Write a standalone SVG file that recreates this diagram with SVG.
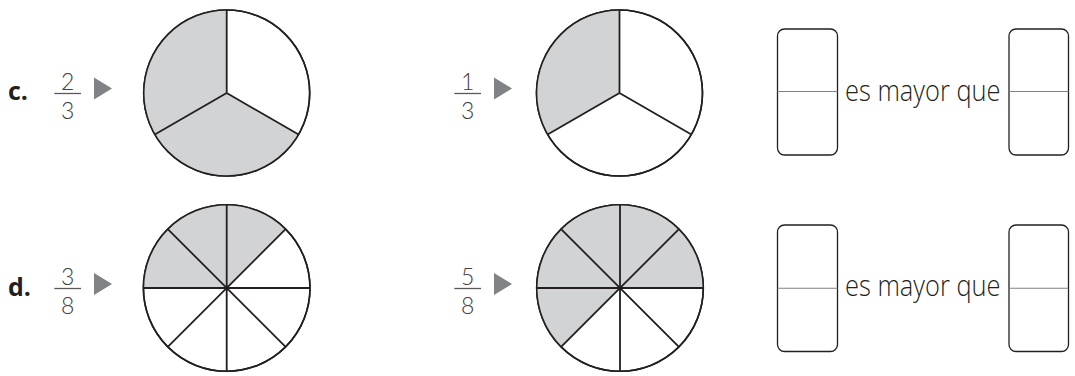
<svg xmlns="http://www.w3.org/2000/svg" width="1075" height="376" viewBox="0 0 1075 376">
<style>
.bg{fill:#ffffff}
.disc{fill:#ffffff;stroke:#231f20;stroke-width:1.6}
.shade{fill:#d1d3d4;stroke:none}
.spoke{stroke:#231f20;stroke-width:1.8;fill:none}
.label{font-family:"Open Sans","Noto Sans","Liberation Sans",sans-serif;font-weight:700;font-size:25px;fill:#231f20}
.digit{font-family:Lato,"Open Sans","Liberation Sans",sans-serif;font-weight:300;font-size:23px;fill:#414042;text-anchor:middle}
.bar{stroke:#58595b;stroke-width:1.3}
.tri{fill:#808285}
.box{fill:#ffffff;stroke:#231f20;stroke-width:1.3}
.mid{stroke:#808285;stroke-width:1.1}
.txt{font-family:"Open Sans","Noto Sans","Liberation Sans",sans-serif;font-weight:300;font-size:29px;fill:#231f20}
</style>
<defs>
<polygon id="ptr" class="tri" points="0,-11 0,11 18,0"/>
</defs>
<rect class="bg" x="0" y="0" width="1075" height="376"/>

<g id="label-c"><text class="label" x="8" y="100">c.</text></g>
<g id="label-d"><text class="label" x="8" y="295.5">d.</text></g>

<g id="frac-c1">
<text class="digit" x="67.7" y="90">2</text>
<line class="bar" x1="54.3" y1="93.5" x2="81" y2="93.5"/>
<text class="digit" x="67.7" y="118.5">3</text>
</g>
<g id="frac-c2">
<text class="digit" x="467.7" y="90">1</text>
<line class="bar" x1="454.3" y1="93.5" x2="481" y2="93.5"/>
<text class="digit" x="467.7" y="118.5">3</text>
</g>
<g id="frac-d1">
<text class="digit" x="67.7" y="285">3</text>
<line class="bar" x1="54.3" y1="288.5" x2="81" y2="288.5"/>
<text class="digit" x="67.7" y="313.5">8</text>
</g>
<g id="frac-d2">
<text class="digit" x="467.7" y="285">5</text>
<line class="bar" x1="454.3" y1="288.5" x2="481" y2="288.5"/>
<text class="digit" x="467.7" y="313.5">8</text>
</g>

<g id="connectors">
<use href="#ptr" x="94" y="88.5"/>
<use href="#ptr" x="494" y="88.5"/>
<use href="#ptr" x="94" y="284"/>
<use href="#ptr" x="494" y="284"/>
</g>

<g id="circle-c1">
<circle class="disc" cx="226.7" cy="93" r="83"/>
<path class="shade" d="M226.7,93 L226.7,10 A83,83 0 1 0 298.58,134.5 Z"/>
<circle cx="226.7" cy="93" r="83" fill="none" stroke="#231f20" stroke-width="1.6"/>
<path class="spoke" d="M226.7,10 L226.7,93 L154.82,134.5 M226.7,93 L298.58,134.5"/>
</g>

<g id="circle-c2">
<circle class="disc" cx="619.5" cy="93" r="83"/>
<path class="shade" d="M619.5,93 L619.5,10 A83,83 0 0 0 547.62,134.5 Z"/>
<circle cx="619.5" cy="93" r="83" fill="none" stroke="#231f20" stroke-width="1.6"/>
<path class="spoke" d="M619.5,10 L619.5,93 L547.62,134.5 M619.5,93 L691.38,134.5"/>
</g>

<g id="circle-d1">
<circle class="disc" cx="226.7" cy="288" r="83.3"/>
<path class="shade" d="M226.7,288 L285.6,229.1 A83.3,83.3 0 0 0 143.4,288 Z"/>
<circle cx="226.7" cy="288" r="83.3" fill="none" stroke="#231f20" stroke-width="1.6"/>
<path class="spoke" d="M143.4,288 H310 M226.7,204.7 V371.3 M167.8,229.1 L285.6,346.9 M285.6,229.1 L167.8,346.9"/>
<circle cx="226.7" cy="288" r="2" fill="#231f20"/>
</g>

<g id="circle-d2">
<circle class="disc" cx="620" cy="288" r="83.3"/>
<path class="shade" d="M620,288 L703.3,288 A83.3,83.3 0 1 0 561.1,346.9 Z"/>
<circle cx="620" cy="288" r="83.3" fill="none" stroke="#231f20" stroke-width="1.6"/>
<path class="spoke" d="M536.7,288 H703.3 M620,204.7 V371.3 M561.1,229.1 L678.9,346.9 M678.9,229.1 L561.1,346.9"/>
<circle cx="620" cy="288" r="2" fill="#231f20"/>
</g>

<g id="answer-c">
<g id="box-c1">
<rect class="box" x="777.5" y="29" width="60" height="126" rx="7"/>
<line class="mid" x1="777.5" y1="91.5" x2="837.5" y2="91.5"/>
</g>
<text class="txt" x="845" y="101" textLength="155.5" lengthAdjust="spacingAndGlyphs">es mayor que</text>
<g id="box-c2">
<rect class="box" x="1009" y="29" width="59.5" height="126" rx="7"/>
<line class="mid" x1="1009" y1="91.5" x2="1068.5" y2="91.5"/>
</g>
</g>

<g id="answer-d">
<g id="box-d1">
<rect class="box" x="777.5" y="225" width="60" height="126.5" rx="7"/>
<line class="mid" x1="777.5" y1="288.3" x2="837.5" y2="288.3"/>
</g>
<text class="txt" x="845" y="296" textLength="155.5" lengthAdjust="spacingAndGlyphs">es mayor que</text>
<g id="box-d2">
<rect class="box" x="1009" y="225" width="59.5" height="126.5" rx="7"/>
<line class="mid" x1="1009" y1="288.3" x2="1068.5" y2="288.3"/>
</g>
</g>
</svg>
